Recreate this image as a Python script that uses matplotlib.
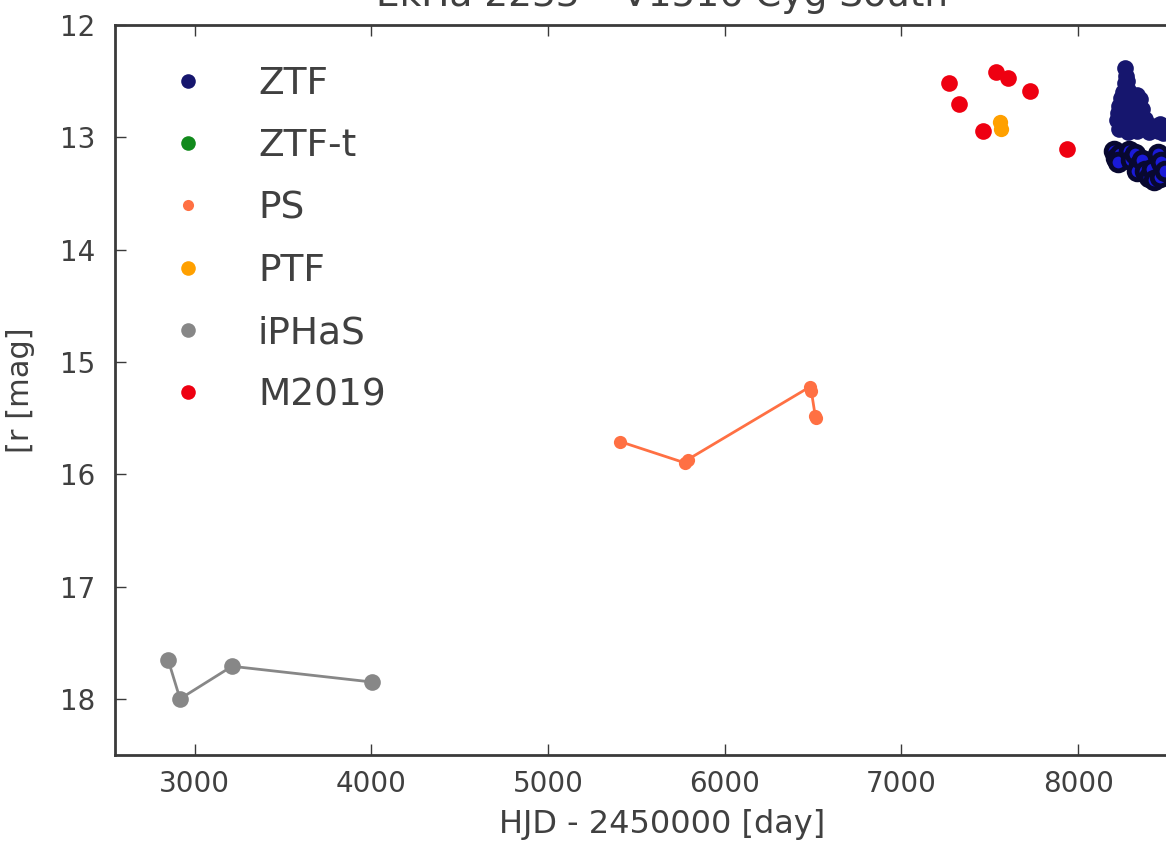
import matplotlib
matplotlib.use('Agg')
import matplotlib.pyplot as plt
from matplotlib.lines import Line2D

# ---------------- data ----------------
title = "EkHa 2233 \u2013 V1516 Cyg South"
xlabel = "HJD - 2450000 [day]"
ylabel = "[r [mag]"
xticks = [3000, 4000, 5000, 6000, 7000, 8000]
yticks = [12, 13, 14, 15, 16, 17, 18]

labels = ["ZTF", "ZTF-t", "PS", "PTF", "iPHaS", "M2019"]
colors = ["#16166e", "#118a1c", "#ff7043", "#ffa000", "#878787", "#ee0011"]

iphas_x = [2850, 2918, 3212, 4003]
iphas_y = [17.65, 18.00, 17.71, 17.85]

ps_x = [5409, 5777, 5790, 6484, 6490, 6512, 6515]
ps_y = [15.71, 15.90, 15.87, 15.22, 15.26, 15.48, 15.50]

ptf_x = [7558, 7563]
ptf_y = [12.86, 12.93]

m2019_x = [7270, 7325, 7460, 7535, 7602, 7726, 7935]
m2019_y = [12.52, 12.70, 12.94, 12.42, 12.47, 12.59, 13.10]

ztf_t_x = []
ztf_t_y = []

ztf_x = [8265, 8270, 8262, 8275, 8280, 8255,
         8240, 8300, 8330, 8350, 8230, 8270, 8320, 8360, 8225, 8290, 8345,
         8220, 8250, 8300, 8340, 8380, 8420, 8460, 8490, 8230, 8280, 8330,
         8400, 8450, 8480,
         8200, 8215, 8235, 8225, 8285, 8300, 8320, 8345, 8330, 8360, 8380,
         8400, 8420, 8430, 8450, 8470, 8465, 8490]
ztf_y = [12.38, 12.45, 12.52, 12.50, 12.58, 12.60,
         12.65, 12.62, 12.62, 12.66, 12.72, 12.70, 12.72, 12.75, 12.78, 12.80, 12.80,
         12.85, 12.88, 12.86, 12.88, 12.84, 12.90, 12.88, 12.90, 12.93, 12.95, 12.94,
         12.95, 12.94, 12.96,
         13.12, 13.18, 13.15, 13.22, 13.12, 13.20, 13.15, 13.25, 13.30, 13.20, 13.30,
         13.35, 13.28, 13.38, 13.15, 13.22, 13.35, 13.30]

# ---------------- figure ----------------
W, H = 1166, 849
fig = plt.figure(figsize=(W / 100, H / 100), dpi=100)
fig.patch.set_facecolor("white")
ax = fig.add_axes([115 / W, 1 - 755 / H, (1209 - 115) / W, (755 - 25) / H])

spine_c = "#3a3a3a"
text_c = "#404040"

# iPHaS
ax.plot(iphas_x, iphas_y, "-", color=colors[4], lw=2, zorder=2)
ax.plot(iphas_x, iphas_y, "o", color=colors[4], ms=12, mew=0, zorder=3)
# PS
ax.plot(ps_x, ps_y, "-", color=colors[2], lw=2, zorder=2)
ax.plot(ps_x, ps_y, "o", color=colors[2], ms=9.5, mew=0, zorder=3)
# PTF
ax.plot(ptf_x, ptf_y, "o", color=colors[3], ms=11, mew=0, zorder=3)
# M2019
ax.plot(m2019_x, m2019_y, "o", color=colors[5], ms=12, mew=0, zorder=4)
# ZTF-t
ax.plot(ztf_t_x, ztf_t_y, "o", color=colors[1], ms=10, mew=0, zorder=3)
# ZTF
up_x = [x for x, y in zip(ztf_x, ztf_y) if y < 13.05]
up_y = [y for y in ztf_y if y < 13.05]
lo_x = [x for x, y in zip(ztf_x, ztf_y) if y >= 13.05]
lo_y = [y for y in ztf_y if y >= 13.05]
ax.plot(up_x, up_y, "o", color=colors[0], ms=12, mew=0, zorder=5)
ax.plot(lo_x, lo_y, "o", mfc="#1a1ad8", mec="#080830", ms=12, mew=3.5, zorder=5)

ax.set_xlim(2550, 8740)
ax.set_ylim(18.5, 12)
ax.set_xticks(xticks)
ax.set_yticks(yticks)

for s in ax.spines.values():
    s.set_color(spine_c)
    s.set_linewidth(2)

ax.tick_params(axis="both", which="major", direction="in", length=8, width=1,
               colors=spine_c, labelcolor=text_c, labelsize=20,
               top=True, right=True)
ax.tick_params(axis="x", pad=11)
ax.tick_params(axis="y", pad=14)

ax.set_xlabel(xlabel, fontsize=23, color=text_c, labelpad=8)
ax.set_ylabel(ylabel, fontsize=22, color=text_c)
ax.yaxis.set_label_coords(-80 / (1209 - 115), 0.5)
ax.set_title(title, fontsize=27, color=text_c, pad=14)

sizes = [10.5, 10.5, 8, 10.5, 10.5, 10.5]
handles = [Line2D([], [], marker="o", ls="none", color=c, ms=s, mew=0)
           for c, s in zip(colors, sizes)]
ax.legend(handles, labels, loc="upper left",
          bbox_to_anchor=(169 / W, 1 - 66 / H), bbox_transform=fig.transFigure,
          frameon=False, fontsize=27, borderpad=0, borderaxespad=0,
          handlelength=1.0, handletextpad=1.37, labelspacing=0.70,
          labelcolor=text_c)

fig.savefig("out.png", dpi=100, facecolor="white")
